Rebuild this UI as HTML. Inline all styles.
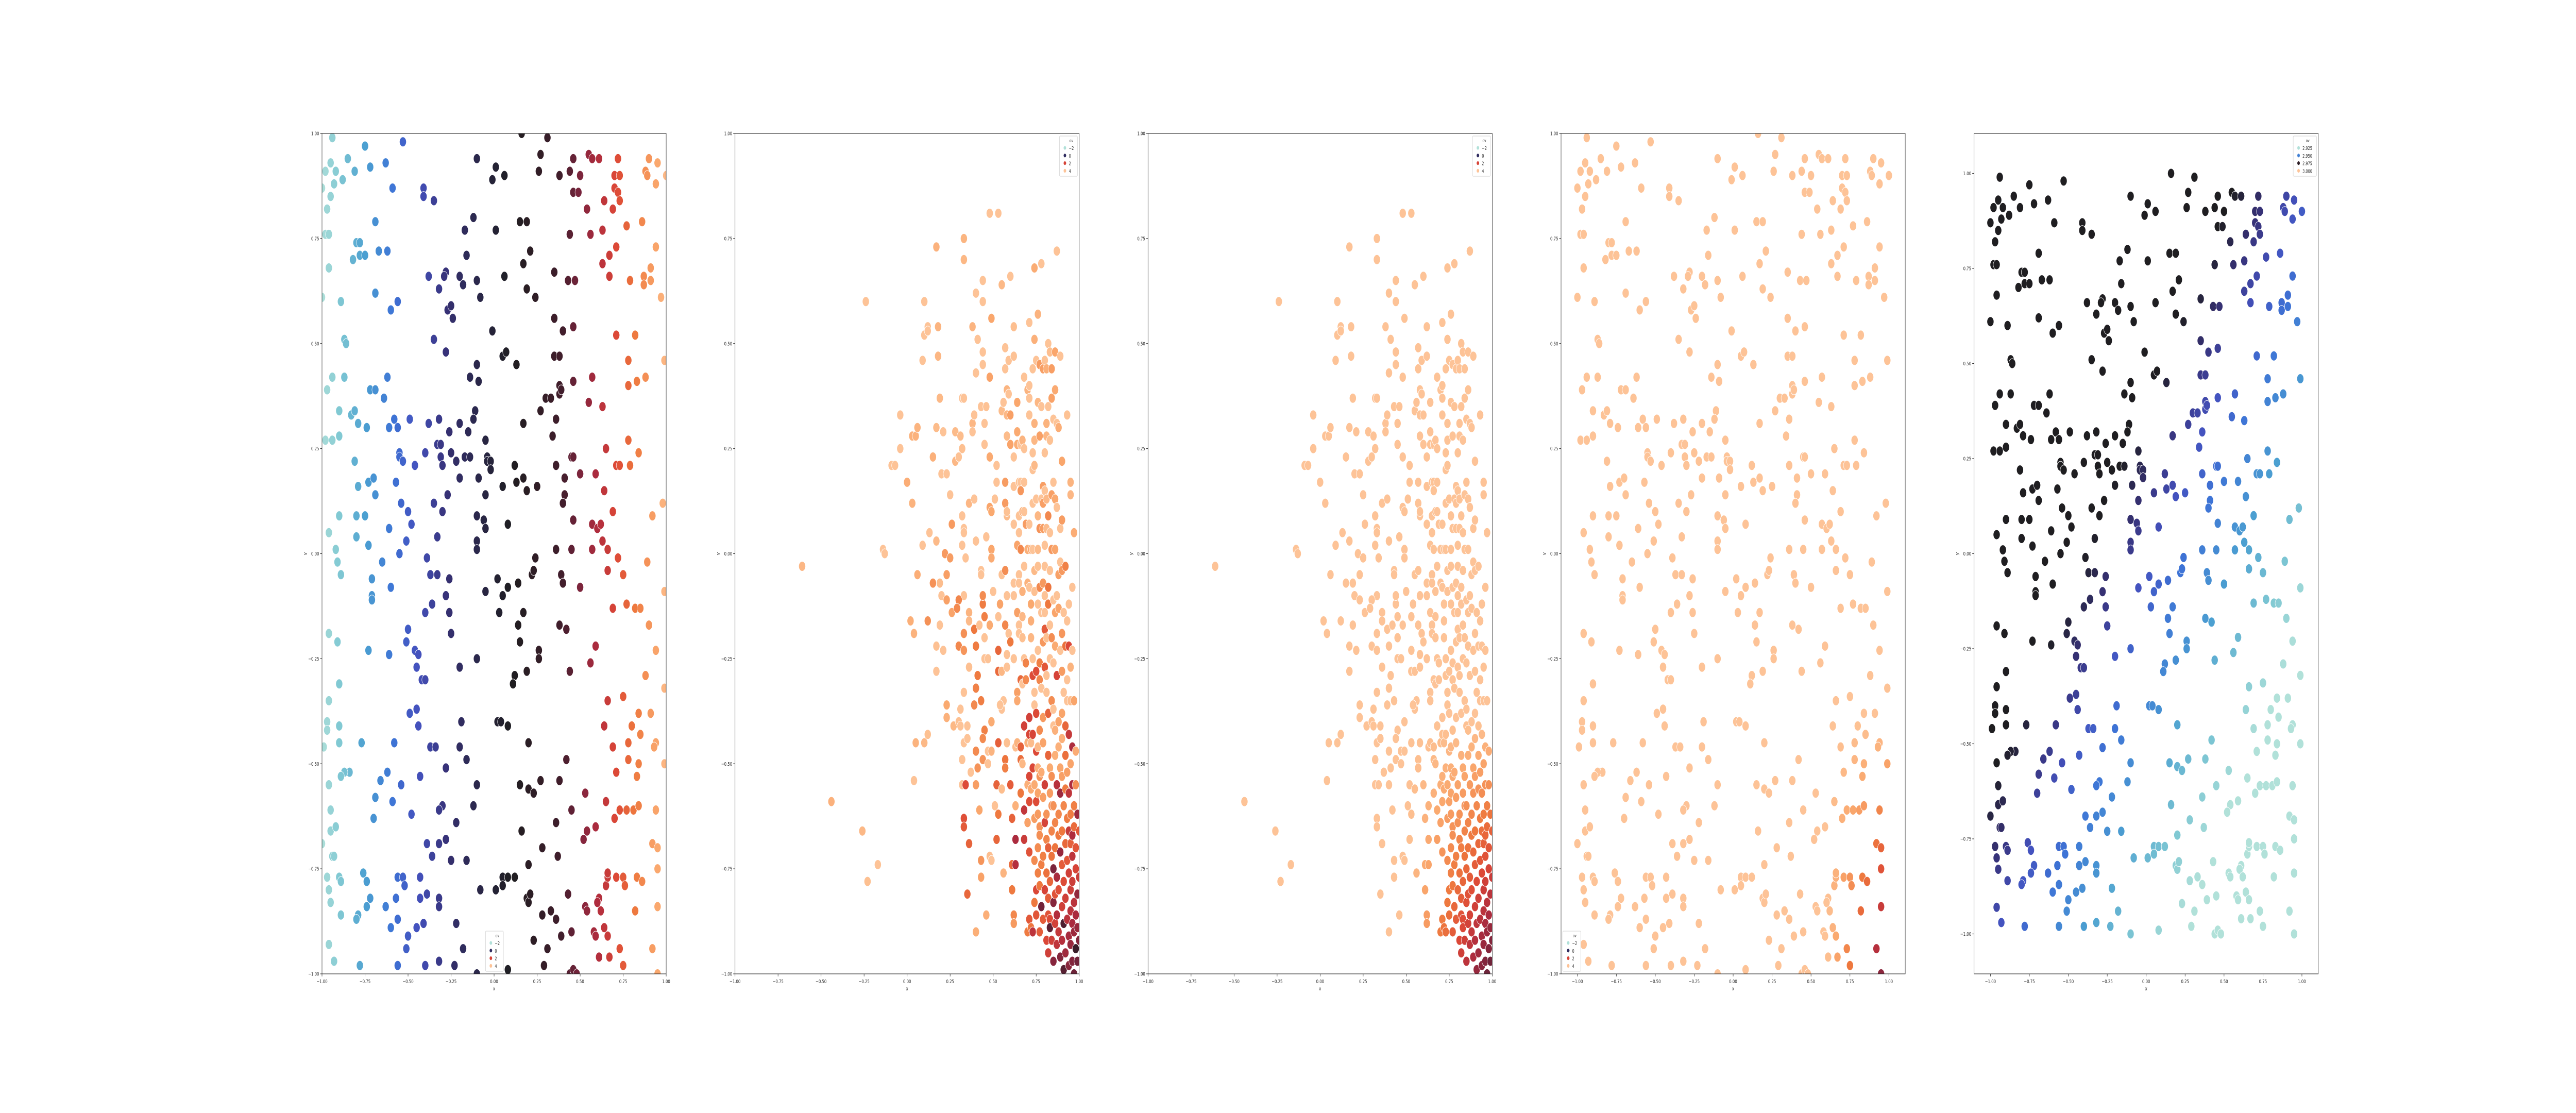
<!DOCTYPE html>
<html><head><meta charset="utf-8"><title>ov scatter panels</title>
<style>
html,body{margin:0;padding:0;background:#fff;overflow:hidden;width:100%;height:100%;}
svg{display:block;position:fixed;left:0;top:0;width:100vw;height:100vh;font-family:"DejaVu Sans","Liberation Sans",sans-serif;}
</style></head>
<body>
<svg id="fig" viewBox="0 0 7200 2160" preserveAspectRatio="none" xmlns="http://www.w3.org/2000/svg"></svg>
<script>
// ---- data: point set A (panels 1, 4, 5) ----
const xA=[-0.94,-1.0,-0.98,-0.95,-0.93,-0.95,-0.97,-0.92,-0.85,-0.88,-0.81,-0.75,-0.72,-0.63,-0.59,-0.53,-0.41,-0.41,-0.35,-0.1,-0.01,0.01,0.06,0.16,0.27,0.26,0.31,0.38,0.44,0.46,0.46,0.49,0.5,0.54,0.55,0.57,0.61,0.64,0.69,0.7,0.7,0.72,0.73,0.72,0.73,0.9,0.88,0.89,0.95,0.94,1.0,
-0.98,-0.96,-0.69,-0.12,0.01,0.15,0.19,-0.17,
-0.96,-0.8,-0.78,-0.82,-0.78,-0.75,-0.67,-0.62,-1.0,-0.69,-0.89,-0.6,-0.56,-0.38,-0.32,-0.28,-0.29,-0.2,-0.18,-0.16,-0.1,-0.08,0.06,0.17,0.21,0.19,0.24,0.35,0.43,0.47,0.44,0.56,0.63,0.63,0.67,0.67,0.71,0.77,0.79,0.86,0.87,0.87,0.91,0.91,0.94,0.97,
-0.87,-0.86,-0.94,-0.87,-0.97,-0.72,-0.69,-0.62,-0.35,-0.27,-0.25,-0.24,-0.28,-0.14,-0.1,-0.09,-0.01,0.05,0.07,0.13,0.35,0.35,0.38,0.4,0.46,0.57,0.46,0.38,0.71,0.78,0.82,0.78,0.83,0.88,0.99,
-0.9,-0.83,-0.81,-0.79,-0.74,-0.98,-0.94,-0.9,-0.64,-0.61,-0.58,-0.56,-0.49,-0.38,-0.32,-0.26,-0.2,-0.15,-0.11,-0.12,0.17,0.27,0.3,0.33,0.36,0.34,0.38,0.39,0.55,0.63,0.45,0.46,0.65,0.71,0.73,0.78,0.79,0.84,0.59,0.5,0.36,0.41,-0.81,-0.55,-0.55,-0.53,-0.46,-0.4,-0.33,-0.31,-0.31,-0.3,-0.25,-0.22,-0.17,-0.14,-0.05,-0.04,-0.04,-0.02,-0.02,0.12,-0.2,
-0.79,-0.73,-0.7,-0.69,-0.57,-0.57,-0.54,-0.5,-0.48,-0.35,-0.3,-0.27,-0.09,-0.05,-0.1,-0.06,-0.05,-0.1,-0.1,0.05,0.13,0.17,0.19,0.25,0.08,-0.9,-0.8,-0.75,-0.8,-0.73,-0.61,-0.51,-0.55,-0.96,-0.92,-0.33,0.36,0.41,0.4,0.46,0.45,0.57,0.6,0.62,0.64,0.63,0.57,0.66,0.69,0.98,0.92,
-0.91,-0.89,-0.71,-0.65,-0.6,-0.71,-0.71,-0.39,-0.37,-0.33,-0.26,-0.28,-0.26,-0.36,-0.4,-0.05,0.02,0.05,0.08,0.03,0.14,0.24,0.22,0.23,0.39,0.4,0.5,0.17,0.14,0.38,0.42,0.66,0.72,0.75,0.89,0.77,0.69,0.82,0.85,0.9,0.99,-0.96,-0.91,-0.5,-0.25,
-0.51,-0.46,-0.44,-0.45,-0.42,-0.4,-0.73,-0.61,-0.2,-0.1,0.15,0.26,0.26,0.12,0.11,0.19,0.44,0.59,0.56,0.94,0.88,0.99,0.75,0.66,-0.9,-0.96,-0.97,-0.97,-0.9,-0.49,-0.45,-0.44,-0.19,0.02,0.04,0.08,0.64,0.8,0.84,0.91,0.85,
-0.99,-0.9,-0.77,-0.58,-0.37,-0.34,-0.2,-0.16,0.2,0.42,0.69,0.78,0.94,0.93,0.78,0.84,0.99,-0.84,-0.87,-0.89,-0.96,-0.62,-0.66,-0.54,-0.43,-0.28,-0.1,-0.69,-0.59,-0.48,-0.3,-0.32,-0.12,0.15,0.2,0.23,0.27,0.38,0.53,0.71,0.83,0.65,0.73,0.77,0.81,0.84,0.94,-0.95,-0.95,-0.92,-0.7,-0.22,0.45,0.7,0.54,0.59,0.52,0.16,-1.0,
-0.94,-0.93,-0.97,-0.9,-0.89,-0.96,-0.95,-0.89,-0.76,-0.74,-0.72,-0.74,-0.79,-0.8,-0.63,-0.56,-0.53,-0.52,-0.57,-0.56,-0.6,-0.39,-0.36,-0.32,-0.28,-0.25,-0.16,-0.43,-0.43,-0.39,-0.32,-0.32,-0.41,-0.45,-0.5,-0.51,-0.22,-0.18,-0.96,-0.93,-0.78,-0.56,-0.4,-0.32,-0.23,-0.1,-0.08,0.01,0.05,0.05,0.08,0.12,0.2,0.19,0.2,0.21,0.28,0.36,0.37,0.43,0.33,0.36,0.28,0.23,0.31,0.29,0.39,0.45,0.44,0.46,0.48,0.08,0.53,0.54,0.58,0.59,0.61,0.6,0.62,0.64,0.65,0.66,0.66,0.71,0.75,0.76,0.83,0.86,0.82,0.95,0.95,0.92,0.95,0.66,0.73,0.67,0.61,0.75,0.92,0.95];
const yA=[0.99,0.87,0.91,0.93,0.88,0.85,0.82,0.91,0.94,0.89,0.91,0.97,0.92,0.93,0.87,0.98,0.87,0.85,0.84,0.94,0.89,0.92,0.9,1.0,0.95,0.91,0.99,0.9,0.91,0.94,0.86,0.86,0.9,0.82,0.95,0.94,0.94,0.84,0.82,0.87,0.9,0.94,0.9,0.86,0.84,0.94,0.91,0.9,0.93,0.88,0.9,
0.76,0.76,0.79,0.8,0.77,0.79,0.79,0.77,
0.68,0.74,0.74,0.7,0.71,0.71,0.72,0.72,0.61,0.62,0.6,0.58,0.6,0.66,0.63,0.67,0.66,0.66,0.64,0.71,0.65,0.61,0.66,0.69,0.72,0.63,0.61,0.67,0.65,0.65,0.76,0.76,0.77,0.69,0.71,0.66,0.73,0.78,0.65,0.79,0.66,0.64,0.65,0.68,0.73,0.61,
0.51,0.5,0.42,0.42,0.39,0.39,0.39,0.42,0.51,0.58,0.59,0.56,0.48,0.42,0.45,0.41,0.53,0.47,0.48,0.45,0.56,0.47,0.47,0.53,0.54,0.42,0.41,0.4,0.52,0.46,0.52,0.4,0.41,0.42,0.46,
0.34,0.33,0.34,0.31,0.3,0.27,0.27,0.28,0.37,0.3,0.32,0.3,0.32,0.31,0.32,0.29,0.31,0.29,0.34,0.32,0.31,0.34,0.37,0.37,0.32,0.28,0.38,0.39,0.36,0.35,0.23,0.23,0.25,0.21,0.21,0.27,0.21,0.24,0.19,0.19,0.21,0.18,0.22,0.24,0.23,0.22,0.21,0.24,0.26,0.26,0.23,0.21,0.24,0.22,0.23,0.23,0.27,0.23,0.22,0.22,0.2,0.21,0.18,
0.16,0.17,0.18,0.14,0.17,0.17,0.12,0.1,0.07,0.12,0.1,0.14,0.18,0.14,0.09,0.08,0.06,0.03,0.01,0.16,0.17,0.18,0.15,0.16,0.07,0.09,0.09,0.09,0.04,0.02,0.06,0.03,0.0,0.05,0.01,0.04,0.01,0.14,0.12,0.08,0.01,0.07,0.06,0.07,0.15,0.03,0.01,0.01,0.1,0.12,0.09,
-0.02,-0.05,-0.06,-0.02,-0.08,-0.1,-0.11,-0.01,-0.05,-0.05,-0.06,-0.1,-0.14,-0.12,-0.14,-0.09,-0.06,-0.1,-0.08,-0.14,-0.07,-0.01,-0.05,-0.04,-0.05,-0.07,-0.08,-0.14,-0.17,-0.17,-0.18,-0.04,-0.01,-0.05,-0.02,-0.12,-0.13,-0.13,-0.13,-0.17,-0.09,-0.19,-0.21,-0.18,-0.19,
-0.21,-0.23,-0.24,-0.27,-0.3,-0.3,-0.23,-0.24,-0.27,-0.25,-0.21,-0.23,-0.25,-0.29,-0.31,-0.28,-0.28,-0.22,-0.26,-0.23,-0.29,-0.32,-0.34,-0.35,-0.31,-0.35,-0.4,-0.42,-0.41,-0.38,-0.37,-0.41,-0.4,-0.4,-0.4,-0.41,-0.41,-0.41,-0.38,-0.38,-0.43,
-0.46,-0.45,-0.45,-0.45,-0.46,-0.46,-0.46,-0.49,-0.45,-0.49,-0.46,-0.45,-0.45,-0.46,-0.49,-0.5,-0.5,-0.52,-0.52,-0.53,-0.55,-0.52,-0.54,-0.55,-0.53,-0.51,-0.55,-0.58,-0.59,-0.62,-0.6,-0.61,-0.6,-0.55,-0.56,-0.57,-0.54,-0.54,-0.57,-0.52,-0.53,-0.59,-0.61,-0.61,-0.61,-0.6,-0.61,-0.61,-0.66,-0.65,-0.63,-0.64,-0.61,-0.63,-0.66,-0.65,-0.68,-0.66,-0.69,
-0.72,-0.72,-0.77,-0.77,-0.78,-0.8,-0.83,-0.86,-0.76,-0.78,-0.82,-0.84,-0.86,-0.87,-0.84,-0.77,-0.77,-0.79,-0.82,-0.87,-0.89,-0.69,-0.72,-0.69,-0.68,-0.73,-0.73,-0.77,-0.82,-0.81,-0.82,-0.84,-0.88,-0.89,-0.91,-0.94,-0.88,-0.94,-0.93,-0.97,-0.98,-0.98,-0.98,-0.97,-0.98,-1.0,-0.8,-0.8,-0.77,-0.79,-0.77,-0.77,-0.74,-0.82,-0.83,-0.81,-0.7,-0.64,-0.72,-0.81,-0.85,-0.87,-0.86,-0.92,-0.94,-0.98,-0.91,-0.9,-1.0,-0.99,-1.0,-0.99,-0.84,-0.85,-0.9,-0.91,-0.82,-0.83,-0.85,-0.89,-0.79,-0.77,-0.76,-0.77,-0.77,-0.79,-0.77,-0.78,-0.85,-0.75,-0.84,-0.69,-0.7,-0.91,-0.94,-0.96,-0.96,-0.98,-0.94,-1.0];
// ---- data: point set B (panels 2, 3) as x,y pairs ----
const ptsB=[[-0.61,-0.03],[-0.44,-0.59],[-0.26,-0.66],[-0.23,-0.78],[-0.17,-0.74],[-0.24,0.6],[-0.14,0.01],[-0.13,0.0],[-0.09,0.21],[-0.07,0.21],[-0.04,0.33],[-0.04,0.25],[0.0,0.17],[0.03,0.28],[0.05,0.28],[0.06,0.3],[0.03,0.12],[0.06,-0.05],[0.02,-0.16],[0.04,-0.19],[0.05,-0.45],[0.1,-0.45],[0.12,-0.43],[0.04,-0.54],[0.09,0.02],[0.09,0.46],[0.1,0.52],[0.12,0.54],[0.12,0.53],[0.1,0.6],[0.13,0.05],[0.15,-0.07],[0.12,-0.16],[0.15,0.23],[0.17,0.73],[0.18,0.54],[0.18,0.47],[0.19,0.37],[0.17,0.3],[0.17,0.03],[0.19,-0.07],[0.17,-0.22],[0.19,-0.17],[0.2,-0.1],[0.21,-0.23],[0.17,-0.28],[0.2,0.19],[0.23,0.19],[0.21,0.29],[0.25,0.14],[0.26,0.07],[0.22,0.0],[0.25,-0.01],[0.23,-0.05],[0.23,-0.11],[0.26,-0.14],[0.28,0.22],[0.28,0.29],[0.31,0.28],[0.32,0.25],[0.3,0.23],[0.32,0.37],[0.33,0.37],[0.32,0.09],[0.33,0.06],[0.33,0.05],[0.32,0.02],[0.34,-0.01],[0.33,-0.1],[0.3,-0.11],[0.29,-0.13],[0.3,-0.22],[0.33,-0.19],[0.33,-0.23],[0.33,0.75],[0.33,0.7],[0.23,-0.36],[0.23,-0.39],[0.27,-0.41],[0.3,-0.4],[0.31,-0.41],[0.31,-0.37],[0.33,-0.33],[0.33,-0.45],[0.35,-0.41],[0.35,-0.44],[0.32,-0.49],[0.32,-0.55],[0.34,-0.55],[0.33,-0.63],[0.33,-0.65],[0.36,-0.69],[0.35,-0.81],[0.38,0.54],[0.38,0.31],[0.36,0.12],[0.36,-0.14],[0.36,-0.16],[0.36,-0.27],[0.37,-0.52],[0.4,0.62],[0.41,0.51],[0.4,0.43],[0.39,0.33],[0.38,0.29],[0.39,0.13],[0.4,0.03],[0.39,-0.18],[0.4,-0.22],[0.41,-0.29],[0.4,-0.32],[0.39,-0.36],[0.4,-0.47],[0.41,-0.51],[0.4,-0.55],[0.42,-0.61],[0.4,-0.9],[0.42,-0.17],[0.44,0.65],[0.44,0.6],[0.44,0.48],[0.44,0.45],[0.43,0.35],[0.45,0.31],[0.43,-0.04],[0.43,-0.05],[0.44,-0.12],[0.45,-0.15],[0.44,-0.1],[0.43,-0.35],[0.45,-0.42],[0.44,-0.44],[0.44,-0.49],[0.43,-0.73],[0.43,-0.77],[0.46,-0.86],[0.46,0.35],[0.45,0.26],[0.46,0.04],[0.45,-0.2],[0.45,-0.25],[0.47,-0.25],[0.47,-0.47],[0.47,-0.5],[0.48,0.81],[0.48,0.42],[0.49,0.56],[0.48,0.23],[0.48,0.11],[0.49,0.1],[0.49,0.01],[0.49,-0.01],[0.48,-0.17],[0.49,-0.4],[0.49,-0.47],[0.48,-0.72],[0.49,-0.73],[0.5,-0.09],[0.51,0.13],[0.52,0.21],[0.52,0.17],[0.53,0.81],[0.51,-0.6],[0.53,-0.15],[0.53,-0.23],[0.53,-0.28],[0.53,-0.45],[0.52,-0.55],[0.52,-0.68],[0.53,-0.62],[0.54,-0.12],[0.55,0.64],[0.55,0.34],[0.55,-0.28],[0.55,-0.05],[0.56,0.36],[0.56,-0.35],[0.55,-0.37],[0.54,-0.36],[0.55,-0.56],[0.56,-0.76],[0.57,0.49],[0.57,0.44],[0.57,0.17],[0.57,0.12],[0.57,-0.04],[0.57,-0.17],[0.57,-0.49],[0.57,-0.51],[0.58,0.39],[0.58,0.33],[0.58,0.28],[0.58,0.09],[0.58,0.1],[0.58,-0.1],[0.58,-0.24],[0.58,-0.27],[0.58,-0.45],[0.59,0.46],[0.59,0.38],[0.59,-0.19],[0.6,0.66],[0.6,0.33],[0.6,0.26],[0.6,-0.21],[0.6,-0.55],[0.61,-0.63],[0.61,-0.74],[0.61,-0.8],[0.62,-0.86],[0.62,-0.88],[0.62,0.54],[0.62,0.47],[0.62,0.23],[0.62,0.16],[0.62,0.07],[0.62,-0.07],[0.62,-0.1],[0.62,-0.25],[0.63,-0.46],[0.63,-0.6],[0.63,-0.68],[0.63,-0.74],[0.64,0.36],[0.64,0.29],[0.64,0.26],[0.64,0.02],[0.64,-0.14],[0.64,-0.33],[0.64,-0.35],[0.64,-0.45],[0.65,0.17],[0.65,0.09],[0.65,0.05],[0.65,-0.05],[0.65,-0.07],[0.65,-0.17],[0.65,-0.19],[0.66,0.26],[0.66,0.17],[0.66,0.15],[0.66,0.01],[0.66,-0.3],[0.66,-0.46],[0.66,-0.49],[0.66,-0.57],[0.67,0.27],[0.67,0.1],[0.67,-0.09],[0.67,-0.15],[0.67,-0.2],[0.67,-0.31],[0.67,-0.5],[0.68,0.42],[0.68,0.25],[0.68,0.17],[0.68,0.1],[0.68,-0.03],[0.68,-0.25],[0.68,-0.41],[0.68,-0.61],[0.68,-0.68],[0.69,0.07],[0.69,-0.26],[0.69,-0.3],[0.7,0.39],[0.7,0.01],[0.7,-0.07],[0.7,-0.45],[0.7,-0.55],[0.7,-0.64],[0.7,-0.9],[0.71,0.55],[0.71,0.4],[0.71,0.37],[0.71,0.33],[0.71,0.07],[0.71,-0.08],[0.71,-0.39],[0.71,-0.43],[0.71,-0.53],[0.71,-0.59],[0.71,-0.71],[0.71,-0.87],[0.72,0.01],[0.72,-0.12],[0.72,-0.16],[0.72,-0.2],[0.72,-0.45],[0.72,-0.56],[0.72,-0.89],[0.73,0.44],[0.73,0.24],[0.73,0.2],[0.73,0.12],[0.73,0.01],[0.73,-0.25],[0.73,-0.29],[0.73,-0.43],[0.73,-0.51],[0.73,-0.9],[0.74,0.68],[0.74,0.51],[0.74,0.31],[0.74,0.27],[0.74,0.21],[0.74,-0.04],[0.74,-0.09],[0.74,-0.33],[0.74,-0.36],[0.74,-0.55],[0.74,-0.63],[0.74,-0.73],[0.74,-0.83],[0.75,0.46],[0.75,0.13],[0.75,-0.28],[0.75,-0.38],[0.75,-0.47],[0.75,-0.59],[0.75,-0.8],[0.75,-0.86],[0.76,0.57],[0.76,0.36],[0.76,0.09],[0.76,0.01],[0.76,-0.03],[0.76,-0.12],[0.76,-0.23],[0.76,-0.46],[0.76,-0.51],[0.76,-0.57],[0.76,-0.62],[0.76,-0.7],[0.76,-0.76],[0.77,0.45],[0.77,0.28],[0.77,0.06],[0.77,-0.08],[0.77,-0.26],[0.77,-0.3],[0.77,-0.42],[0.77,-0.53],[0.77,-0.65],[0.77,-0.67],[0.77,-0.79],[0.77,-0.9],[0.78,0.69],[0.78,0.35],[0.78,0.13],[0.78,-0.14],[0.78,-0.32],[0.78,-0.52],[0.78,-0.74],[0.78,-0.84],[0.79,0.44],[0.79,0.16],[0.79,0.12],[0.79,0.06],[0.79,-0.07],[0.79,-0.21],[0.79,-0.39],[0.79,-0.45],[0.79,-0.58],[0.79,-0.72],[0.79,-0.87],[0.8,0.46],[0.8,0.24],[0.8,0.15],[0.8,0.02],[0.8,-0.03],[0.8,-0.1],[0.8,-0.14],[0.8,-0.18],[0.8,-0.27],[0.8,-0.55],[0.8,-0.64],[0.8,-0.8],[0.81,0.44],[0.81,0.31],[0.81,0.28],[0.81,0.13],[0.81,0.06],[0.81,-0.2],[0.81,-0.29],[0.81,-0.33],[0.81,-0.62],[0.81,-0.68],[0.81,-0.76],[0.81,-0.92],[0.82,0.5],[0.82,0.35],[0.82,0.09],[0.82,-0.08],[0.82,-0.12],[0.82,-0.38],[0.82,-0.48],[0.82,-0.7],[0.82,-0.82],[0.82,-0.86],[0.82,-0.95],[0.83,0.48],[0.83,0.27],[0.83,0.05],[0.83,-0.04],[0.83,-0.17],[0.83,-0.25],[0.83,-0.51],[0.83,-0.57],[0.83,-0.78],[0.83,-0.87],[0.83,-0.89],[0.84,0.44],[0.84,0.37],[0.84,0.14],[0.84,0.01],[0.84,-0.2],[0.84,-0.35],[0.84,-0.53],[0.84,-0.6],[0.84,-0.66],[0.84,-0.72],[0.84,-0.92],[0.85,0.32],[0.85,0.17],[0.85,-0.11],[0.85,-0.26],[0.85,-0.37],[0.85,-0.41],[0.85,-0.6],[0.85,-0.75],[0.85,-0.83],[0.85,-0.97],[0.86,0.48],[0.86,0.39],[0.86,0.13],[0.86,0.01],[0.86,-0.14],[0.86,-0.22],[0.86,-0.42],[0.86,-0.48],[0.86,-0.64],[0.86,-0.7],[0.86,-0.81],[0.86,-0.88],[0.87,0.72],[0.87,0.31],[0.87,0.11],[0.87,-0.1],[0.87,-0.29],[0.87,-0.55],[0.87,-0.77],[0.87,-0.86],[0.87,-0.93],[0.88,0.3],[0.88,-0.05],[0.88,-0.13],[0.88,-0.4],[0.88,-0.46],[0.88,-0.62],[0.88,-0.67],[0.88,-0.8],[0.88,-0.9],[0.89,0.47],[0.89,0.06],[0.89,-0.02],[0.89,-0.23],[0.89,-0.51],[0.89,-0.57],[0.89,-0.71],[0.89,-0.96],[0.9,0.22],[0.9,0.08],[0.9,-0.04],[0.9,-0.19],[0.9,-0.28],[0.9,-0.38],[0.9,-0.44],[0.9,-0.53],[0.9,-0.66],[0.9,-0.74],[0.9,-0.84],[0.9,-0.92],[0.91,-0.14],[0.91,-0.33],[0.91,-0.6],[0.91,-0.78],[0.91,-0.88],[0.91,-0.99],[0.92,-0.03],[0.92,-0.22],[0.92,-0.41],[0.92,-0.48],[0.92,-0.56],[0.92,-0.69],[0.92,-0.82],[0.92,-0.95],[0.93,0.33],[0.93,-0.16],[0.93,-0.3],[0.93,-0.35],[0.93,-0.52],[0.93,-0.63],[0.93,-0.73],[0.93,-0.87],[0.94,-0.12],[0.94,-0.22],[0.94,-0.43],[0.94,-0.57],[0.94,-0.66],[0.94,-0.76],[0.94,-0.91],[0.94,-0.98],[0.95,0.17],[0.95,0.14],[0.95,-0.27],[0.95,-0.35],[0.95,-0.5],[0.95,-0.62],[0.95,-0.69],[0.95,-0.8],[0.95,-0.85],[0.95,-0.93],[0.96,-0.08],[0.96,-0.23],[0.96,-0.46],[0.96,-0.55],[0.96,-0.67],[0.96,-0.72],[0.96,-0.78],[0.96,-0.88],[0.96,-0.97],[0.97,0.05],[0.97,-0.35],[0.97,-0.6],[0.97,-0.65],[0.97,-0.83],[0.97,-0.9],[0.97,-1.0],[0.98,-0.47],[0.98,-0.55],[0.98,-0.7],[0.98,-0.75],[0.98,-0.86],[0.98,-0.94],[0.99,-0.62],[0.99,-0.81],[0.99,-0.89],[0.99,-0.97],[1.0,-0.66],[1.0,-0.77],[1.0,-0.92]];
// ---- ticks & legends ----
const tickVals=[-1.0,-0.75,-0.5,-0.25,0.0,0.25,0.5,0.75,1.0];
const tickLabels=["\u22121.00","\u22120.75","\u22120.50","\u22120.25","0.00","0.25","0.50","0.75","1.00"];
const legendLabelsA=["\u22122","0","2","4"];
const legendTA=[0.02,0.45,0.76,0.97];
const legendLabelsB=["2.925","2.950","2.975","3.000"];
const legendTB=[0.02,0.27,0.53,0.97];

const NS="http://www.w3.org/2000/svg";
const svg=document.getElementById("fig");
function mk(tag,attrs,parent){const e=document.createElementNS(NS,tag);for(const k in attrs)e.setAttribute(k,attrs[k]);(parent||svg).appendChild(e);return e;}

const cmT=[0,0.1,0.2,0.3,0.37,0.43,0.5,0.57,0.63,0.7,0.77,0.84,0.92,1.0];
const cmC=[[189,231,219],[128,200,211],[76,160,209],[62,116,214],[68,82,190],[55,50,120],[31,30,33],[66,30,44],[120,36,60],[175,44,62],[220,72,55],[238,120,62],[250,168,110],[255,212,175]];
function cmap(t){t=Math.max(0,Math.min(1,t));let i=0;while(i<cmT.length-2&&t>cmT[i+1])i++;const f=(t-cmT[i])/(cmT[i+1]-cmT[i]);const a=cmC[i],b=cmC[i+1];return "rgb("+a.map((v,k)=>Math.round(v+(b[k]-v)*f)).join(",")+")";}
function interp(v,xs,ts){if(v<=xs[0])return ts[0];for(let i=0;i<xs.length-1;i++){if(v<=xs[i+1])return ts[i]+(ts[i+1]-ts[i])*(v-xs[i])/(xs[i+1]-xs[i]);}return ts[ts.length-1];}

const AX_W=962, AX_TOP=259, AX_BOT=1890, GAP=192.4;
const panels=[
 {id:1,xr:[-1,1],yr:[-1,1],set:"A",legend:"bc"},
 {id:2,xr:[-1,1],yr:[-1,1],set:"B",legend:"tr"},
 {id:3,xr:[-1,1],yr:[-1,1],set:"B",legend:"tr"},
 {id:4,xr:[-1.105,1.105],yr:[-1,1],set:"A",legend:"bl"},
 {id:5,xr:[-1.105,1.105],yr:[-1.105,1.105],set:"A",legend:"tr5"}
];

function colorFor(p,x,y,i){
 if(p===1){return cmap(interp(x,[-1,-0.75,-0.5,-0.25,0.1,0.4,0.6,0.8,1],[0.03,0.2,0.35,0.44,0.5,0.57,0.7,0.83,0.95]));}
 if(p===4){const s=Math.max(0,x-0.6)*Math.max(0,-0.4-y);return cmap(0.97-1.5*s);}
 if(p===5){const d=x-y;return cmap(Math.max(0.02,Math.min(0.5,0.5-0.3*(d+0.4))));}
 const s=Math.max(0,-0.4-y)*Math.max(0,x-0.5);const t3=0.97-1.25*s;
 if(p===3)return cmap(t3);
 const v=((i*37+11)%19)/19;
 const fac=0.08+0.36*Math.max(0,Math.min(1,(0.2-y)/1.2));
 const w=v>0.4?(v-0.4)/0.6:0;
 return cmap(Math.min(t3,0.97-w*fac*(0.5+0.6*Math.max(0,x))));
}

panels.forEach((P,pi)=>{
 const L=900+pi*(AX_W+GAP), R=L+AX_W;
 const sx=v=>L+(v-P.xr[0])/(P.xr[1]-P.xr[0])*AX_W;
 const sy=v=>AX_BOT-(v-P.yr[0])/(P.yr[1]-P.yr[0])*(AX_BOT-AX_TOP);
 const g=mk("g",{});
 
 
 const cid="clip"+P.id;
 const cp=mk("clipPath",{id:cid},g);mk("rect",{x:L,y:AX_TOP,width:AX_W,height:AX_BOT-AX_TOP},cp);
 const pts=mk("g",{"clip-path":"url(#"+cid+")"},g);
 
 
 const n=P.set==="A"?xA.length:ptsB.length;
 for(let i=0;i<n;i++){
  const x=P.set==="A"?xA[i]:ptsB[i][0], y=P.set==="A"?yA[i]:ptsB[i][1];
  const c=mk("circle",{cx:sx(x).toFixed(1),cy:sy(y).toFixed(1),r:9.5,fill:colorFor(P.id,x,y,i),stroke:"#fff","stroke-width":1},pts);
  
  
 }
 const frame=mk("rect",{x:L,y:AX_TOP,width:AX_W,height:AX_BOT-AX_TOP,fill:"none",stroke:"#262626","stroke-width":1.1},g);
 
 
 tickVals.forEach((v,k)=>{
  if(v>=P.xr[0]-1e-9&&v<=P.xr[1]+1e-9){
   const X=sx(v);
   mk("line",{x1:X,x2:X,y1:AX_BOT,y2:AX_BOT+5,stroke:"#262626","stroke-width":1.1},g);
   const t=mk("text",{x:X,y:AX_BOT+18,"font-size":10,"text-anchor":"middle",fill:"#262626"},g);
   t.textContent=tickLabels[k];
   
   
  }
  if(v>=P.yr[0]-1e-9&&v<=P.yr[1]+1e-9){
   const Y=sy(v);
   mk("line",{x1:L-5,x2:L,y1:Y,y2:Y,stroke:"#262626","stroke-width":1.1},g);
   const t=mk("text",{x:L-8,y:Y+3.6,"font-size":10,"text-anchor":"end",fill:"#262626"},g);
   t.textContent=tickLabels[k];
   
   
  }
 });
 const xl=mk("text",{x:(L+R)/2,y:AX_BOT+32,"font-size":10,"text-anchor":"middle",fill:"#262626"},g);
 xl.textContent="x";
 
 
 const yl=mk("text",{x:0,y:0,"font-size":10,"text-anchor":"middle",fill:"#262626",transform:"translate("+(L-44)+","+((AX_TOP+AX_BOT)/2)+") rotate(-90)"},g);
 yl.textContent="y";
 
 
 const labels=P.legend==="tr5"?legendLabelsB:legendLabelsA;
 const ts=P.legend==="tr5"?legendTB:legendTA;
 const lw=P.legend==="tr5"?65:50, lh=78;
 let lx,ly;
 if(P.legend==="bc"){lx=1357;ly=AX_BOT-lh-5;}
 else if(P.legend==="bl"){lx=L+5;ly=AX_BOT-lh-5;}
 else {lx=R-lw-5;ly=AX_TOP+5;}
 const lg=mk("g",{},g);
 
 
 mk("rect",{x:lx,y:ly,width:lw,height:lh,rx:2,fill:"#fff","fill-opacity":0.8,stroke:"#d0d0d0","stroke-width":1},lg);
 const tt=mk("text",{x:lx+lw/2+8,y:ly+12,"font-size":8.5,"text-anchor":"middle",fill:"#262626"},lg);
 tt.textContent="ov";
 
 
 labels.forEach((lab,k)=>{
  const yy=ly+26+k*14.8;
  const m=mk("circle",{cx:lx+15,cy:yy-3,r:3.6,fill:cmap(ts[k])},lg);
  
  
  const t=mk("text",{x:lx+26,y:yy+1,"font-size":9.5,fill:"#262626"},lg);
  t.textContent=lab;
  
  
 });
});
</script>
</body></html>
